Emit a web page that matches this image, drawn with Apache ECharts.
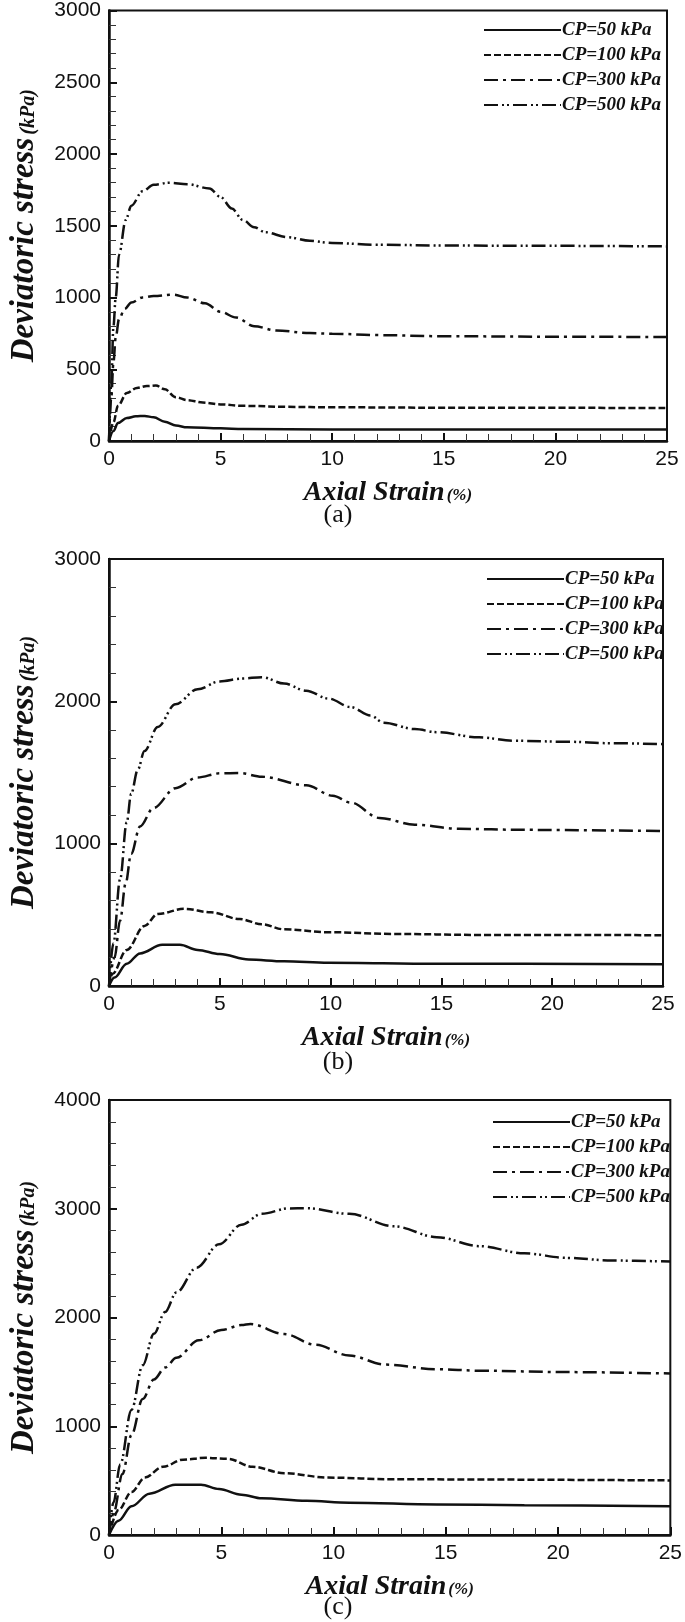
<!DOCTYPE html>
<html>
<head>
<meta charset="utf-8">
<script src="https://cdn.jsdelivr.net/npm/echarts@6/dist/echarts.min.js"></script>
<style>
  html, body { margin: 0; padding: 0; background: #fff; }
  #chart { width: 685px; height: 1622px; }
</style>
</head>
<body>
<div id="chart"></div>
<script>
// legend names, one per confining pressure
const pressures = ["CP=50 kPa", "CP=100 kPa", "CP=300 kPa", "CP=500 kPa"];
const captions = ["(a)", "(b)", "(c)"];

// x axis (axial strain %)
const strainMax = 25;
const strainStep = 5;

// y axis (deviatoric stress kPa) per panel
const stressMax = [3000, 3000, 4000];
const stressStep = [500, 1000, 1000];

// panel (a) curves: [strain %, stress kPa]
const a50 = [[0, 0], [0.2, 70], [0.4, 125], [0.8, 160], [1.2, 172], [1.6, 175], [2.0, 165], [2.5, 135], [3.0, 108], [3.5, 95], [5, 88], [6, 83], [10, 80], [25, 80]];
const a100 = [[0, 0], [0.2, 130], [0.4, 245], [0.8, 335], [1.25, 370], [1.7, 383], [2.1, 387], [2.5, 360], [3.0, 305], [3.5, 285], [4.2, 268], [5, 255], [6, 245], [8, 238], [10, 235], [15, 232], [25, 230]];
const a300 = [[0, 0], [0.1, 300], [0.2, 550], [0.3, 720], [0.45, 850], [0.7, 920], [1.0, 965], [1.5, 1000], [2, 1010], [2.9, 1020], [3.5, 1000], [4.3, 960], [5, 900], [5.7, 860], [6.5, 800], [7.5, 770], [9, 752], [10, 748], [12, 738], [15, 730], [20, 727], [25, 724]];
const a500 = [[0, 0], [0.1, 400], [0.2, 800], [0.3, 1000], [0.45, 1300], [0.75, 1540], [1.0, 1640], [1.5, 1740], [2, 1785], [2.7, 1800], [3.5, 1790], [4.5, 1760], [5.0, 1700], [5.5, 1620], [6, 1540], [6.5, 1490], [7, 1455], [8, 1420], [9, 1395], [10, 1380], [12, 1368], [15, 1362], [20, 1360], [25, 1356]];

// panel (b)
const b50 = [[0, 0], [0.25, 60], [0.8, 157], [1.4, 229], [2.4, 289], [3.2, 289], [4.0, 253], [5.0, 224], [6.3, 186], [7.9, 174], [9.9, 164], [14.8, 157], [25, 152]];
const b100 = [[0, 0], [0.15, 84], [0.8, 253], [1.6, 422], [2.2, 506], [3.4, 542], [4.6, 518], [5.9, 470], [6.9, 434], [7.9, 398], [9.9, 378], [12.8, 366], [16.7, 359], [25, 357]];
const b300 = [[0, 0], [0.25, 200], [0.5, 460], [0.75, 720], [1.0, 930], [1.4, 1120], [2.0, 1250], [3.0, 1390], [4.0, 1465], [5.0, 1494], [5.9, 1496], [6.9, 1470], [8.9, 1410], [10.1, 1337], [10.9, 1289], [12.2, 1181], [13.8, 1133], [15.8, 1104], [18.7, 1097], [25, 1089]];
const b500 = [[0, 0], [0.2, 300], [0.5, 750], [0.8, 1150], [1.0, 1350], [1.3, 1520], [1.6, 1651], [2.2, 1820], [3.0, 1980], [4.0, 2085], [5.0, 2140], [6.0, 2160], [6.9, 2170], [7.9, 2125], [8.9, 2075], [9.9, 2020], [10.9, 1960], [11.8, 1900], [12.4, 1850], [13.8, 1805], [14.8, 1783], [16.7, 1747], [18.3, 1723], [20.7, 1716], [22.6, 1706], [25, 1699]];

// panel (c)
const c50 = [[0, 0], [0.43, 132], [1.0, 264], [1.8, 380], [2.95, 462], [4.1, 462], [4.9, 422], [5.9, 370], [6.8, 337], [8.8, 314], [10.7, 297], [14.6, 281], [18.5, 274], [25, 264]];
const c100 = [[0, 0], [0.43, 231], [1.0, 396], [1.6, 528], [2.4, 627], [3.3, 693], [4.3, 710], [5.3, 700], [6.4, 627], [7.8, 568], [9.75, 528], [12.7, 512], [25, 502]];
const c300 = [[0, 0], [0.2, 200], [0.6, 560], [1.0, 920], [1.5, 1250], [2.0, 1430], [2.5, 1540], [3.0, 1630], [4.0, 1790], [5.0, 1885], [5.9, 1930], [6.3, 1940], [7.8, 1848], [9.2, 1749], [10.7, 1650], [12.3, 1567], [14.6, 1525], [16.5, 1511], [20.4, 1498], [25, 1485]];
const c500 = [[0, 0], [0.2, 300], [0.5, 650], [1.0, 1150], [1.5, 1560], [2.0, 1850], [2.5, 2050], [3.0, 2230], [3.9, 2458], [4.9, 2673], [5.9, 2854], [6.8, 2953], [8.0, 3003], [8.8, 3005], [10.7, 2953], [12.7, 2838], [14.6, 2739], [16.5, 2656], [18.5, 2590], [20.4, 2548], [22.4, 2524], [25, 2514]];

const panelCurves = [[a50, a100, a300, a500], [b50, b100, b300, b500], [c50, c100, c300, c500]];

// dash pattern per pressure
const dashTypes = ["solid", [7, 3], [14, 5, 3, 5], [14, 4, 2, 3, 2, 4]];

const ink = "#111";
const serif = "'Liberation Serif', 'Times New Roman', serif";
const sans = "'Liberation Sans', Arial, sans-serif";

const grids = [
  { left: 103, top: 9, right: 18, height: 432 },
  { left: 108, top: 559, right: 22, height: 427 },
  { left: 108, top: 1100, right: 13, height: 435 },
];
const legendPos = [
  { left: 478, top: 15 },
  { left: 481, top: 564 },
  { left: 487, top: 1107 },
];
const captionY = [515, 1062, 1607];

const chart = echarts.init(document.getElementById("chart"));

const xAxes = grids.map((g, i) => ({
  type: "value",
  gridIndex: i,
  min: 0,
  max: strainMax,
  interval: strainStep,
  name: "{m|Axial Strain}{s|(%)}",
  nameLocation: "middle",
  nameGap: 38,
  nameTextStyle: {
    rich: {
      m: { fontFamily: serif, fontStyle: "italic", fontWeight: "bold", fontSize: 28, color: ink },
      s: { fontFamily: serif, fontStyle: "italic", fontWeight: "bold", fontSize: 17, color: ink, padding: [6, 0, 0, 2] },
    },
  },
  axisLine: { onZero: false, lineStyle: { color: ink, width: 2.5 } },
  axisTick: { inside: true, length: 8, lineStyle: { color: ink, width: 2 } },
  minorTick: { show: true, splitNumber: 5, length: 7, lineStyle: { color: "#333", width: 1 } },
  splitLine: { show: false },
  axisLabel: { color: ink, fontFamily: sans, fontSize: 21, margin: 8, formatter: (v) => String(v) },
}));

const yAxes = grids.map((g, i) => ({
  type: "value",
  gridIndex: i,
  min: 0,
  max: stressMax[i],
  interval: stressStep[i],
  name: "{m|Deviatoric stress}{s|(kPa)}",
  nameLocation: "middle",
  nameRotate: 90,
  nameGap: 68,
  nameTextStyle: {
    rich: {
      m: { fontFamily: serif, fontStyle: "italic", fontWeight: "bold", fontSize: 33, color: ink },
      s: { fontFamily: serif, fontStyle: "italic", fontWeight: "bold", fontSize: 20, color: ink, padding: [8, 0, 0, 3] },
    },
  },
  axisLine: { onZero: false, lineStyle: { color: ink, width: 2.5 } },
  axisTick: { inside: true, length: 8, lineStyle: { color: ink, width: 2 } },
  minorTick: { show: true, splitNumber: 5, length: 7, lineStyle: { color: "#333", width: 1 } },
  splitLine: { show: false },
  axisLabel: { color: ink, fontFamily: sans, fontSize: 21, margin: 8, formatter: (v) => String(v) },
}));

const series = [];
panelCurves.forEach((curves, i) => {
  curves.forEach((data, k) => {
    series.push({
      name: pressures[k],
      type: "line",
      xAxisIndex: i,
      yAxisIndex: i,
      symbol: "none",
      smooth: 0.35,
      smoothMonotone: "x",
      lineStyle: { color: ink, width: 2.5, type: dashTypes[k] },
      itemStyle: { color: ink },
      data: data,
    });
  });
});

const legends = legendPos.map((p) => ({
  left: p.left,
  top: p.top,
  orient: "vertical",
  itemWidth: 77,
  itemHeight: 14,
  itemGap: 5,
  selectedMode: false,
  data: pressures,
  itemStyle: { opacity: 0 },
  textStyle: {
    fontFamily: serif,
    fontStyle: "italic",
    fontWeight: "bold",
    fontSize: 19,
    lineHeight: 20,
    color: ink,
    padding: [0, 0, 0, -4],
  },
}));

chart.setOption({
  animation: false,
  backgroundColor: "#fff",
  grid: grids.map((g) => ({ ...g, show: true, borderColor: ink, borderWidth: 2, backgroundColor: "transparent" })),
  xAxis: xAxes,
  yAxis: yAxes,
  legend: legends,
  graphic: captions.map((c, i) => ({
    type: "text",
    x: 338,
    y: captionY[i],
    style: {
      text: c,
      fill: ink,
      font: "26px " + serif,
      align: "center",
      verticalAlign: "middle",
    },
  })),
  series: series,
});
</script>
</body>
</html>
